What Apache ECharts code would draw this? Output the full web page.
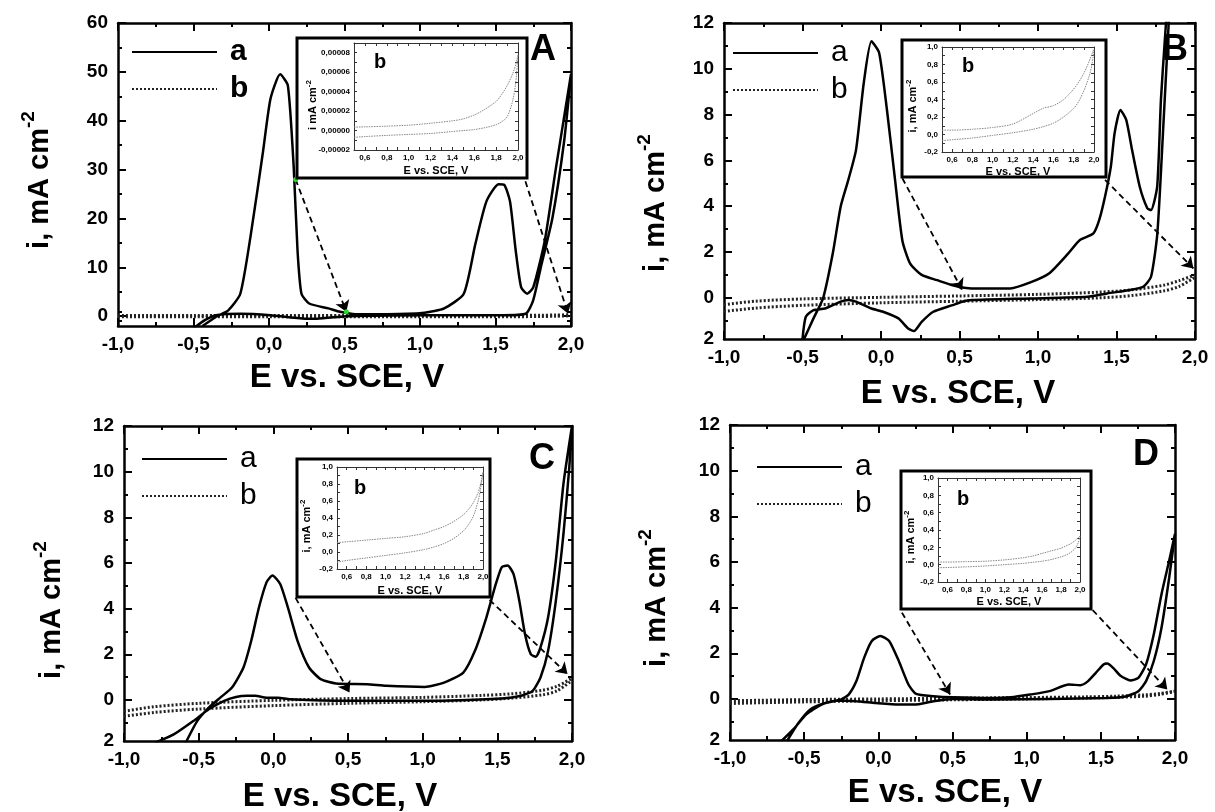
<!DOCTYPE html>
<html>
<head>
<meta charset="utf-8">
<script src="https://cdn.jsdelivr.net/npm/echarts@6.0.0/dist/echarts.min.js"></script>
<style>
  html, body { margin: 0; padding: 0; background: #fff; }
  #chart { width: 1215px; height: 812px; }
</style>
</head>
<body>
<div id="chart"></div>
<script>
// ---- values: E in V vs SCE, i in mA cm-2 ----

// panel A, curve a (full cycle, forward then back)
var A_aE = [-0.44,-0.35,-0.27,-0.19,-0.12,-0.04,0.01,0.074,0.125,0.164,0.189,0.215,0.266,0.394,0.47,0.573,0.78,1.03,1.16,1.29,1.366,1.44,1.52,1.557,1.596,1.634,1.67,1.71,1.75,1.826,1.9,2.0,
            1.954,1.877,1.80,1.749,1.70,1.545,1.03,0.52,0.317,0.24,0.01,-0.19,-0.35,-0.425,-0.50];
var A_aI = [-2.0,-0.1,1.2,4.6,16.8,33.6,44.5,49.5,47.2,30.3,13.4,4.6,2.6,1.6,0.9,0.4,0.4,0.7,1.6,4.6,14.7,23.5,27.0,26.9,23.5,13.4,5.9,4.6,5.9,15.4,30.3,49.5,
            35.7,20.1,10.0,3.2,0.5,0.2,0.2,0.0,-0.5,-0.5,0.2,0.5,0.2,-0.8,-2.5];
// panel B, curve a
var B_aE = [-0.49,-0.43,-0.368,-0.307,-0.257,-0.208,-0.159,-0.11,-0.061,-0.012,0.038,0.087,0.136,0.185,0.259,0.357,0.456,0.578,0.824,0.947,1.07,1.193,1.267,1.353,1.39,1.427,1.464,1.488,1.525,1.562,1.599,1.648,1.697,1.72,1.759,1.783,1.808,1.83,
            1.84,1.796,1.76,1.72,1.67,1.587,1.44,1.316,0.947,0.578,0.517,0.456,0.333,0.259,0.21,0.173,0.111,0.013,-0.061,-0.159,-0.208,-0.257,-0.356,-0.43,-0.479,-0.5];
var B_aI = [-1.8,-0.9,0,1.94,3.98,5.15,6.46,9.37,11.2,10.7,8.2,5.3,2.5,1.5,1.0,0.77,0.55,0.41,0.41,0.66,1.06,1.94,2.52,2.81,3.4,4.42,5.73,7.19,8.2,7.77,6.46,4.85,3.9,3.83,4.85,8.64,11.27,13.0,
            13.0,7.2,2.8,0.92,0.48,0.34,0.19,0.04,-0.03,-0.1,-0.17,-0.32,-0.61,-1.05,-1.45,-1.34,-0.9,-0.61,-0.47,-0.17,-0.1,-0.17,-0.47,-0.54,-0.83,-1.8];
// panel C, curve a
var C_aE = [-0.587,-0.509,-0.432,-0.355,-0.277,-0.2,-0.148,-0.096,-0.045,-0.006,0.046,0.097,0.162,0.239,0.317,0.42,0.627,0.756,1.014,1.143,1.272,1.35,1.427,1.49,1.53,1.569,1.608,1.647,1.685,1.724,1.758,1.789,1.84,1.892,1.943,2.0,
            1.982,1.943,1.892,1.84,1.789,1.737,1.66,1.53,1.014,0.498,0.11,0.033,-0.045,-0.122,-0.174,-0.25,-0.329,-0.432,-0.535,-0.664,-0.793];
var C_aI = [-1.88,-0.92,-0.34,0.1,0.54,1.42,2.59,4.06,5.16,5.45,5.08,4.06,2.59,1.42,0.91,0.72,0.69,0.62,0.57,0.76,1.2,2.15,3.62,5.08,5.82,5.89,5.52,4.35,2.89,2.0,1.89,2.3,3.62,6.11,9.48,12.0,
            10.2,7.28,4.35,2.15,0.98,0.4,0.18,0.06,-0.04,-0.04,0.03,0.1,0.1,0.18,0.18,0.13,-0.04,-0.41,-0.92,-1.5,-1.88];
// panel D, curve a
var D_aE = [-0.617,-0.539,-0.461,-0.357,-0.253,-0.2,-0.148,-0.096,-0.044,0.013,0.073,0.138,0.203,0.255,0.372,0.503,0.763,0.893,1.023,1.154,1.284,1.362,1.414,1.466,1.518,1.544,1.583,1.635,1.7,1.753,1.805,1.857,1.909,1.961,2.0,
            1.961,1.909,1.857,1.805,1.753,1.674,1.544,0.763,0.503,0.372,0.242,0.138,-0.018,-0.148,-0.279,-0.383,-0.487,-0.565,-0.656];
var D_aI = [-1.86,-1.06,-0.47,-0.18,-0.03,0.19,0.78,1.8,2.54,2.76,2.54,1.66,0.63,0.22,0.12,0.07,0.04,0.07,0.19,0.34,0.63,0.6,0.78,1.14,1.51,1.55,1.36,1.0,0.81,0.92,1.51,2.83,4.59,6.06,7.23,
            5.32,3.12,1.66,0.78,0.34,0.12,0.04,-0.03,0,-0.1,-0.25,-0.25,-0.18,-0.1,-0.07,-0.25,-0.69,-1.28,-1.86];

// curve b (dotted) in the main plots: upper and lower branch on a shared E grid
var bE   = [-1.0,-0.8,-0.5,0.0,0.5,1.0,1.4,1.6,1.8,1.9,2.0];
var A_bUp = [0.15,0.15,0.15,0.15,0.15,0.15,0.15,0.15,0.2,0.25,0.3];
var A_bDn = [-0.1,-0.1,-0.1,-0.1,-0.1,-0.1,-0.1,-0.1,-0.05,0.0,0.1];
var B_bUp = [-0.3,-0.15,-0.05,0.02,0.08,0.15,0.25,0.35,0.55,0.75,1.0];
var B_bDn = [-0.6,-0.45,-0.33,-0.22,-0.15,-0.08,0.0,0.1,0.3,0.5,0.9];
var C_bUp = [-0.5,-0.3,-0.15,-0.02,0.06,0.11,0.2,0.27,0.42,0.6,0.95];
var C_bDn = [-0.72,-0.55,-0.4,-0.25,-0.15,-0.08,0.0,0.08,0.22,0.4,0.85];
var D_bUp = [-0.08,-0.06,-0.03,0.0,0.03,0.06,0.09,0.12,0.18,0.24,0.35];
var D_bDn = [-0.2,-0.17,-0.13,-0.08,-0.04,0.0,0.04,0.07,0.12,0.2,0.32];

// insets: curve b enlarged, upper and lower branch on a shared E grid
var inE    = [0.5,0.6,0.8,1.0,1.2,1.4,1.5,1.6,1.7,1.8,1.85,1.9,1.95,1.98,2.0];
var A_inUp = [0.0000035,0.0000038,0.0000045,0.0000055,0.0000075,0.000010,0.000012,0.000016,0.000022,0.000030,0.000037,0.000046,0.000058,0.000068,0.000078];
var A_inDn = [-0.000007,-0.0000062,-0.000005,-0.000004,-0.000003,-0.000001,0.0,0.000001,0.000003,0.000006,0.000009,0.000014,0.000030,0.000050,0.000078];
var B_inUp = [0.05,0.05,0.06,0.08,0.12,0.24,0.30,0.33,0.40,0.52,0.60,0.70,0.83,0.92,0.98];
var B_inDn = [-0.07,-0.06,-0.04,-0.01,0.02,0.06,0.09,0.13,0.20,0.30,0.38,0.50,0.66,0.80,0.97];
var C_inUp = [0.11,0.12,0.14,0.16,0.18,0.22,0.26,0.30,0.36,0.44,0.50,0.58,0.70,0.82,0.94];
var C_inDn = [-0.12,-0.10,-0.07,-0.04,-0.01,0.03,0.06,0.10,0.16,0.25,0.32,0.42,0.60,0.78,0.94];
var D_inUp = [0.03,0.03,0.035,0.04,0.055,0.08,0.10,0.13,0.16,0.19,0.215,0.24,0.28,0.31,0.33];
var D_inDn = [-0.035,-0.033,-0.025,-0.015,0.0,0.015,0.027,0.04,0.06,0.09,0.11,0.14,0.19,0.25,0.33];

// dashed zoom arrows [fromE, fromI, toE, toI]
var A_arrows = [[0.176,28.0,0.512,0.9],[1.698,27.6,1.98,0.55]];
var B_arrows = [[0.136,5.22,0.517,0.34],[1.427,5.15,1.99,1.28]];
var C_arrows = [[0.149,4.47,0.51,0.32],[1.448,4.38,1.97,1.13]];
var D_arrows = [[0.159,3.78,0.484,0.19],[1.445,3.89,1.948,0.41]];

// tick labels
var mainXLabels = [-1,-0.5,0,0.5,1,1.5,2];
var A_yLabels = [0,10,20,30,40,50,60];
var smallYLabels = [-1.8,0,2,4,6,8,10,12];
var inXLabels = [0.6,0.8,1.0,1.2,1.4,1.6,1.8,2.0];
var A_inYLabels = [-0.00002,0,0.00002,0.00004,0.00006,0.00008];
var inYLabels = [-0.2,0,0.2,0.4,0.6,0.8,1.0];

var FONT = '"Liberation Sans", Arial, Helvetica, sans-serif';

function pairs(xs, ys) { return xs.map(function (x, i) { return [x, ys[i]]; }); }
function comma1(v) { return v.toFixed(1).replace('.', ','); }
function smallY(v) { return v < 0 ? '2' : String(v); }

var panels = [
  { key: 'A', aE: A_aE, aI: A_aI, bUp: A_bUp, bDn: A_bDn, inUp: A_inUp, inDn: A_inDn, arrows: A_arrows,
    yMin: -2, yMax: 60, yLabels: A_yLabels, yFmt: String, tickMax: 60, tickStep: 10,
    inYMin: -0.00002, inYMax: 0.00009, inYStep: 0.00001, inYLabels: A_inYLabels, inYFmt: function (v) { return v.toFixed(5).replace('.', ','); },
    main: { left: 118, top: 23, width: 453, height: 303 }, inset: { left: 354, top: 43, width: 164, height: 107 },
    frame: [297, 38, 230, 140], yTitle: [40, 180], xTitle: [347, 378], letter: [543, 50], legend: [126, 32], legendBold: true,
    bLabel: [380, 62], inYTitle: [313, 105], inYText: 'i mA cm', inXTitle: [436, 171], dots: true },
  { key: 'B', aE: B_aE, aI: B_aI, bUp: B_bUp, bDn: B_bDn, inUp: B_inUp, inDn: B_inDn, arrows: B_arrows,
    yMin: -1.8, yMax: 12, yLabels: smallYLabels, yFmt: smallY, tickMax: 12, tickStep: 2,
    inYMin: -0.2, inYMax: 1.0, inYStep: 0.1, inYLabels: inYLabels, inYFmt: comma1,
    main: { left: 724, top: 23, width: 471, height: 316 }, inset: { left: 942, top: 47, width: 152, height: 105 },
    frame: [902, 40, 204, 137], yTitle: [656, 203], xTitle: [958, 394], letter: [1175, 50], legend: [727, 33], legendBold: false,
    bLabel: [968, 66], inYTitle: [913, 106], inYText: 'i, mA cm', inXTitle: [1018, 172] },
  { key: 'C', aE: C_aE, aI: C_aI, bUp: C_bUp, bDn: C_bDn, inUp: C_inUp, inDn: C_inDn, arrows: C_arrows,
    yMin: -1.8, yMax: 12, yLabels: smallYLabels, yFmt: smallY, tickMax: 12, tickStep: 2,
    inYMin: -0.2, inYMax: 1.0, inYStep: 0.1, inYLabels: inYLabels, inYFmt: comma1,
    main: { left: 124, top: 426, width: 448, height: 315 }, inset: { left: 337, top: 467, width: 146, height: 102 },
    frame: [297, 459, 193, 138], yTitle: [52, 610], xTitle: [340, 797], letter: [542, 459], legend: [136, 439], legendBold: false,
    bLabel: [360, 488], inYTitle: [307, 526], inYText: 'i, mA cm', inXTitle: [410, 591] },
  { key: 'D', aE: D_aE, aI: D_aI, bUp: D_bUp, bDn: D_bDn, inUp: D_inUp, inDn: D_inDn, arrows: D_arrows,
    yMin: -1.8, yMax: 12, yLabels: smallYLabels, yFmt: smallY, tickMax: 12, tickStep: 2,
    inYMin: -0.2, inYMax: 1.0, inYStep: 0.1, inYLabels: inYLabels, inYFmt: comma1,
    main: { left: 730, top: 425, width: 445, height: 315 }, inset: { left: 938, top: 478, width: 142, height: 104 },
    frame: [901, 471, 190, 138], yTitle: [657, 598], xTitle: [945, 793], letter: [1146, 455], legend: [751, 447], legendBold: false,
    bLabel: [963, 499], inYTitle: [911, 537], inYText: 'i, mA cm', inXTitle: [1009, 602] }
];

var grids = [], xAxes = [], yAxes = [], series = [], legends = [], graphics = [];

function mkAxis(gi, pos, min, max, o) {
  var c = o.color || '#000', tw = o.tickW || 2;
  return {
    type: 'value', gridIndex: gi, position: pos, min: min, max: max, interval: o.interval, z: o.z || 1, show: o.show !== false,
    axisLine: { show: !!o.line, onZero: false, lineStyle: { color: c, width: o.lineW || 2.5 } },
    axisTick: { show: !!o.tickLen, inside: true, length: o.tickLen || 1, lineStyle: { color: c, width: tw } },
    minorTick: { show: !!o.minorLen, splitNumber: 2, length: o.minorLen || 1, lineStyle: { color: c, width: tw } },
    axisLabel: o.labels
      ? { show: true, customValues: o.labels, formatter: o.fmt, fontSize: o.fontSize, fontWeight: 'bold', fontFamily: FONT, color: '#000', margin: o.margin }
      : { show: false },
    splitLine: { show: false }, minorSplitLine: { show: false }
  };
}

function addGrid(g) {
  grids.push(Object.assign({ containLabel: false, outerBoundsMode: 'none' }, g));
  return grids.length - 1;
}

panels.forEach(function (p) {
  // main plot: box, x ticks, y labels
  var gm = addGrid(p.main);
  var xm = xAxes.length, ym = yAxes.length;
  var xo = { line: true, interval: 0.5, tickLen: 8, minorLen: 4 };
  xAxes.push(mkAxis(gm, 'bottom', -1, 2, Object.assign({ labels: mainXLabels, fmt: comma1, fontSize: 19, margin: 9 }, xo)));
  xAxes.push(mkAxis(gm, 'top', -1, 2, xo));
  yAxes.push(mkAxis(gm, 'left', p.yMin, p.yMax, { line: true, labels: p.yLabels, fmt: p.yFmt, fontSize: 19, margin: 10 }));
  yAxes.push(mkAxis(gm, 'right', p.yMin, p.yMax, { line: true }));

  // y ticks live on an overlay grid that spans 0..tickMax of the main plot
  var unit = p.main.height / (p.tickMax - p.yMin);
  var gt = addGrid({ left: p.main.left, width: p.main.width, top: p.main.top, height: unit * p.tickMax });
  xAxes.push(mkAxis(gt, 'bottom', -1, 2, { show: false }));
  var yo = { interval: p.tickStep, tickLen: 8, minorLen: 4 };
  yAxes.push(mkAxis(gt, 'left', 0, p.tickMax, yo));
  yAxes.push(mkAxis(gt, 'right', 0, p.tickMax, yo));
  if (p.yMin < -1) {
    // the minor tick at -1 below zero
    var gn = addGrid({ left: p.main.left, width: p.main.width, top: p.main.top + unit * (p.tickMax - 1), height: unit * 2 });
    xAxes.push(mkAxis(gn, 'bottom', -1, 2, { show: false }));
    yAxes.push(mkAxis(gn, 'left', -1, 1, { interval: 2, tickLen: 4 }));
    yAxes.push(mkAxis(gn, 'right', -1, 1, { interval: 2, tickLen: 4 }));
  }

  // inset plot
  var gi = addGrid(Object.assign({ z: 11 }, p.inset));
  var xi = xAxes.length, yi = yAxes.length;
  var io = { z: 12, color: '#333', line: true, lineW: 1, tickW: 1, tickLen: 3 };
  xAxes.push(mkAxis(gi, 'bottom', 0.5, 2, Object.assign({ interval: 0.1, labels: inXLabels, fmt: comma1, fontSize: 8, margin: 4 }, io)));
  xAxes.push(mkAxis(gi, 'top', 0.5, 2, Object.assign({ interval: 0.1 }, io)));
  yAxes.push(mkAxis(gi, 'left', p.inYMin, p.inYMax, Object.assign({ interval: p.inYStep, labels: p.inYLabels, fmt: p.inYFmt, fontSize: 8, margin: 4 }, io)));
  yAxes.push(mkAxis(gi, 'right', p.inYMin, p.inYMax, Object.assign({ interval: p.inYStep }, io)));

  var arrowData = p.arrows.map(function (a) { return [{ coord: [a[0], a[1]] }, { coord: [a[2], a[3]] }]; });
  var aSeries = {
    name: 'a', type: 'line', xAxisIndex: xm, yAxisIndex: ym, data: pairs(p.aE, p.aI),
    symbol: 'none', showSymbol: false, smooth: 0.2, z: 3,
    itemStyle: { color: '#000' }, lineStyle: { color: '#000', width: 2.5 },
    markLine: {
      silent: true, symbol: ['none', 'arrow'], symbolSize: 11, label: { show: false },
      itemStyle: { color: '#000' },
      lineStyle: { type: [6, 4], color: '#000', width: 1.8 }, data: arrowData, animation: false
    }
  };
  if (p.dots) {
    aSeries.markPoint = {
      symbol: 'circle', symbolSize: 5, itemStyle: { color: '#22dd22' }, label: { show: false }, silent: true,
      data: [{ coord: [p.arrows[0][0], p.arrows[0][1]] }, { coord: [p.arrows[0][2], p.arrows[0][3]] }]
    };
  }
  series.push(aSeries);
  [p.bUp, p.bDn].forEach(function (arr) {
    series.push({
      name: 'b', type: 'line', xAxisIndex: xm, yAxisIndex: ym, data: pairs(bE, arr),
      symbol: 'none', showSymbol: false, smooth: 0.3, z: 2,
      itemStyle: { color: '#222' }, lineStyle: { color: '#222', width: 3, type: [2, 2] }
    });
  });
  [p.inUp, p.inDn].forEach(function (arr) {
    series.push({
      name: 'inset', type: 'line', xAxisIndex: xi, yAxisIndex: yi, data: pairs(inE, arr),
      symbol: 'none', showSymbol: false, smooth: 0.3, z: 13,
      lineStyle: { color: '#888', width: 1, type: [1.5, 1] }
    });
  });

  legends.push({
    orient: 'vertical', left: p.legend[0], top: p.legend[1], itemWidth: 85, itemHeight: 1, itemGap: 7,
    selectedMode: false, data: ['a', 'b'], itemStyle: { opacity: 0 },
    textStyle: { fontSize: 30, lineHeight: 30, fontFamily: FONT, fontWeight: p.legendBold ? 'bold' : 'normal', color: '#000', padding: [0, 0, 0, 8] }
  });

  // inset frame
  graphics.push({ type: 'rect', z: 10, shape: { x: p.frame[0], y: p.frame[1], width: p.frame[2], height: p.frame[3] },
                  style: { fill: '#fff', stroke: '#000', lineWidth: 3 } });
  // axis titles, panel letter, inset tag
  graphics.push({ type: 'text', z: 14, x: p.yTitle[0], y: p.yTitle[1], rotation: Math.PI / 2,
    style: { text: '{m|i, mA cm}{s|-2}', align: 'center', verticalAlign: 'middle', fill: '#000',
      rich: { m: { fontSize: 29, fontWeight: 'bold', fontFamily: FONT, lineHeight: 42 },
              s: { fontSize: 19, fontWeight: 'bold', fontFamily: FONT, lineHeight: 20, verticalAlign: 'top' } } } });
  graphics.push({ type: 'text', z: 14, x: p.xTitle[0], y: p.xTitle[1],
    style: { text: 'E vs. SCE, V', align: 'center', verticalAlign: 'middle', fill: '#000', fontSize: 33, fontWeight: 'bold', fontFamily: FONT } });
  graphics.push({ type: 'text', z: 14, x: p.letter[0], y: p.letter[1],
    style: { text: p.key, align: 'center', verticalAlign: 'middle', fill: '#000', fontSize: 36, fontWeight: 'bold', fontFamily: FONT } });
  graphics.push({ type: 'text', z: 14, x: p.bLabel[0], y: p.bLabel[1],
    style: { text: 'b', align: 'center', verticalAlign: 'middle', fill: '#000', fontSize: 20, fontWeight: 'bold', fontFamily: FONT } });
  graphics.push({ type: 'text', z: 14, x: p.inYTitle[0], y: p.inYTitle[1], rotation: Math.PI / 2,
    style: { text: '{m|' + p.inYText + '}{s|-2}', align: 'center', verticalAlign: 'middle', fill: '#000',
      rich: { m: { fontSize: 11, fontWeight: 'bold', fontFamily: FONT, lineHeight: 16 },
              s: { fontSize: 8, fontWeight: 'bold', fontFamily: FONT, lineHeight: 8, verticalAlign: 'top' } } } });
  graphics.push({ type: 'text', z: 14, x: p.inXTitle[0], y: p.inXTitle[1],
    style: { text: 'E vs. SCE, V', align: 'center', verticalAlign: 'middle', fill: '#000', fontSize: 11, fontWeight: 'bold', fontFamily: FONT } });
});

var chart = echarts.init(document.getElementById('chart'), null, { renderer: 'canvas' });
chart.setOption({
  backgroundColor: '#fff',
  animation: false,
  grid: grids,
  xAxis: xAxes,
  yAxis: yAxes,
  legend: legends,
  graphic: { elements: graphics },
  series: series
});
</script>
</body>
</html>
